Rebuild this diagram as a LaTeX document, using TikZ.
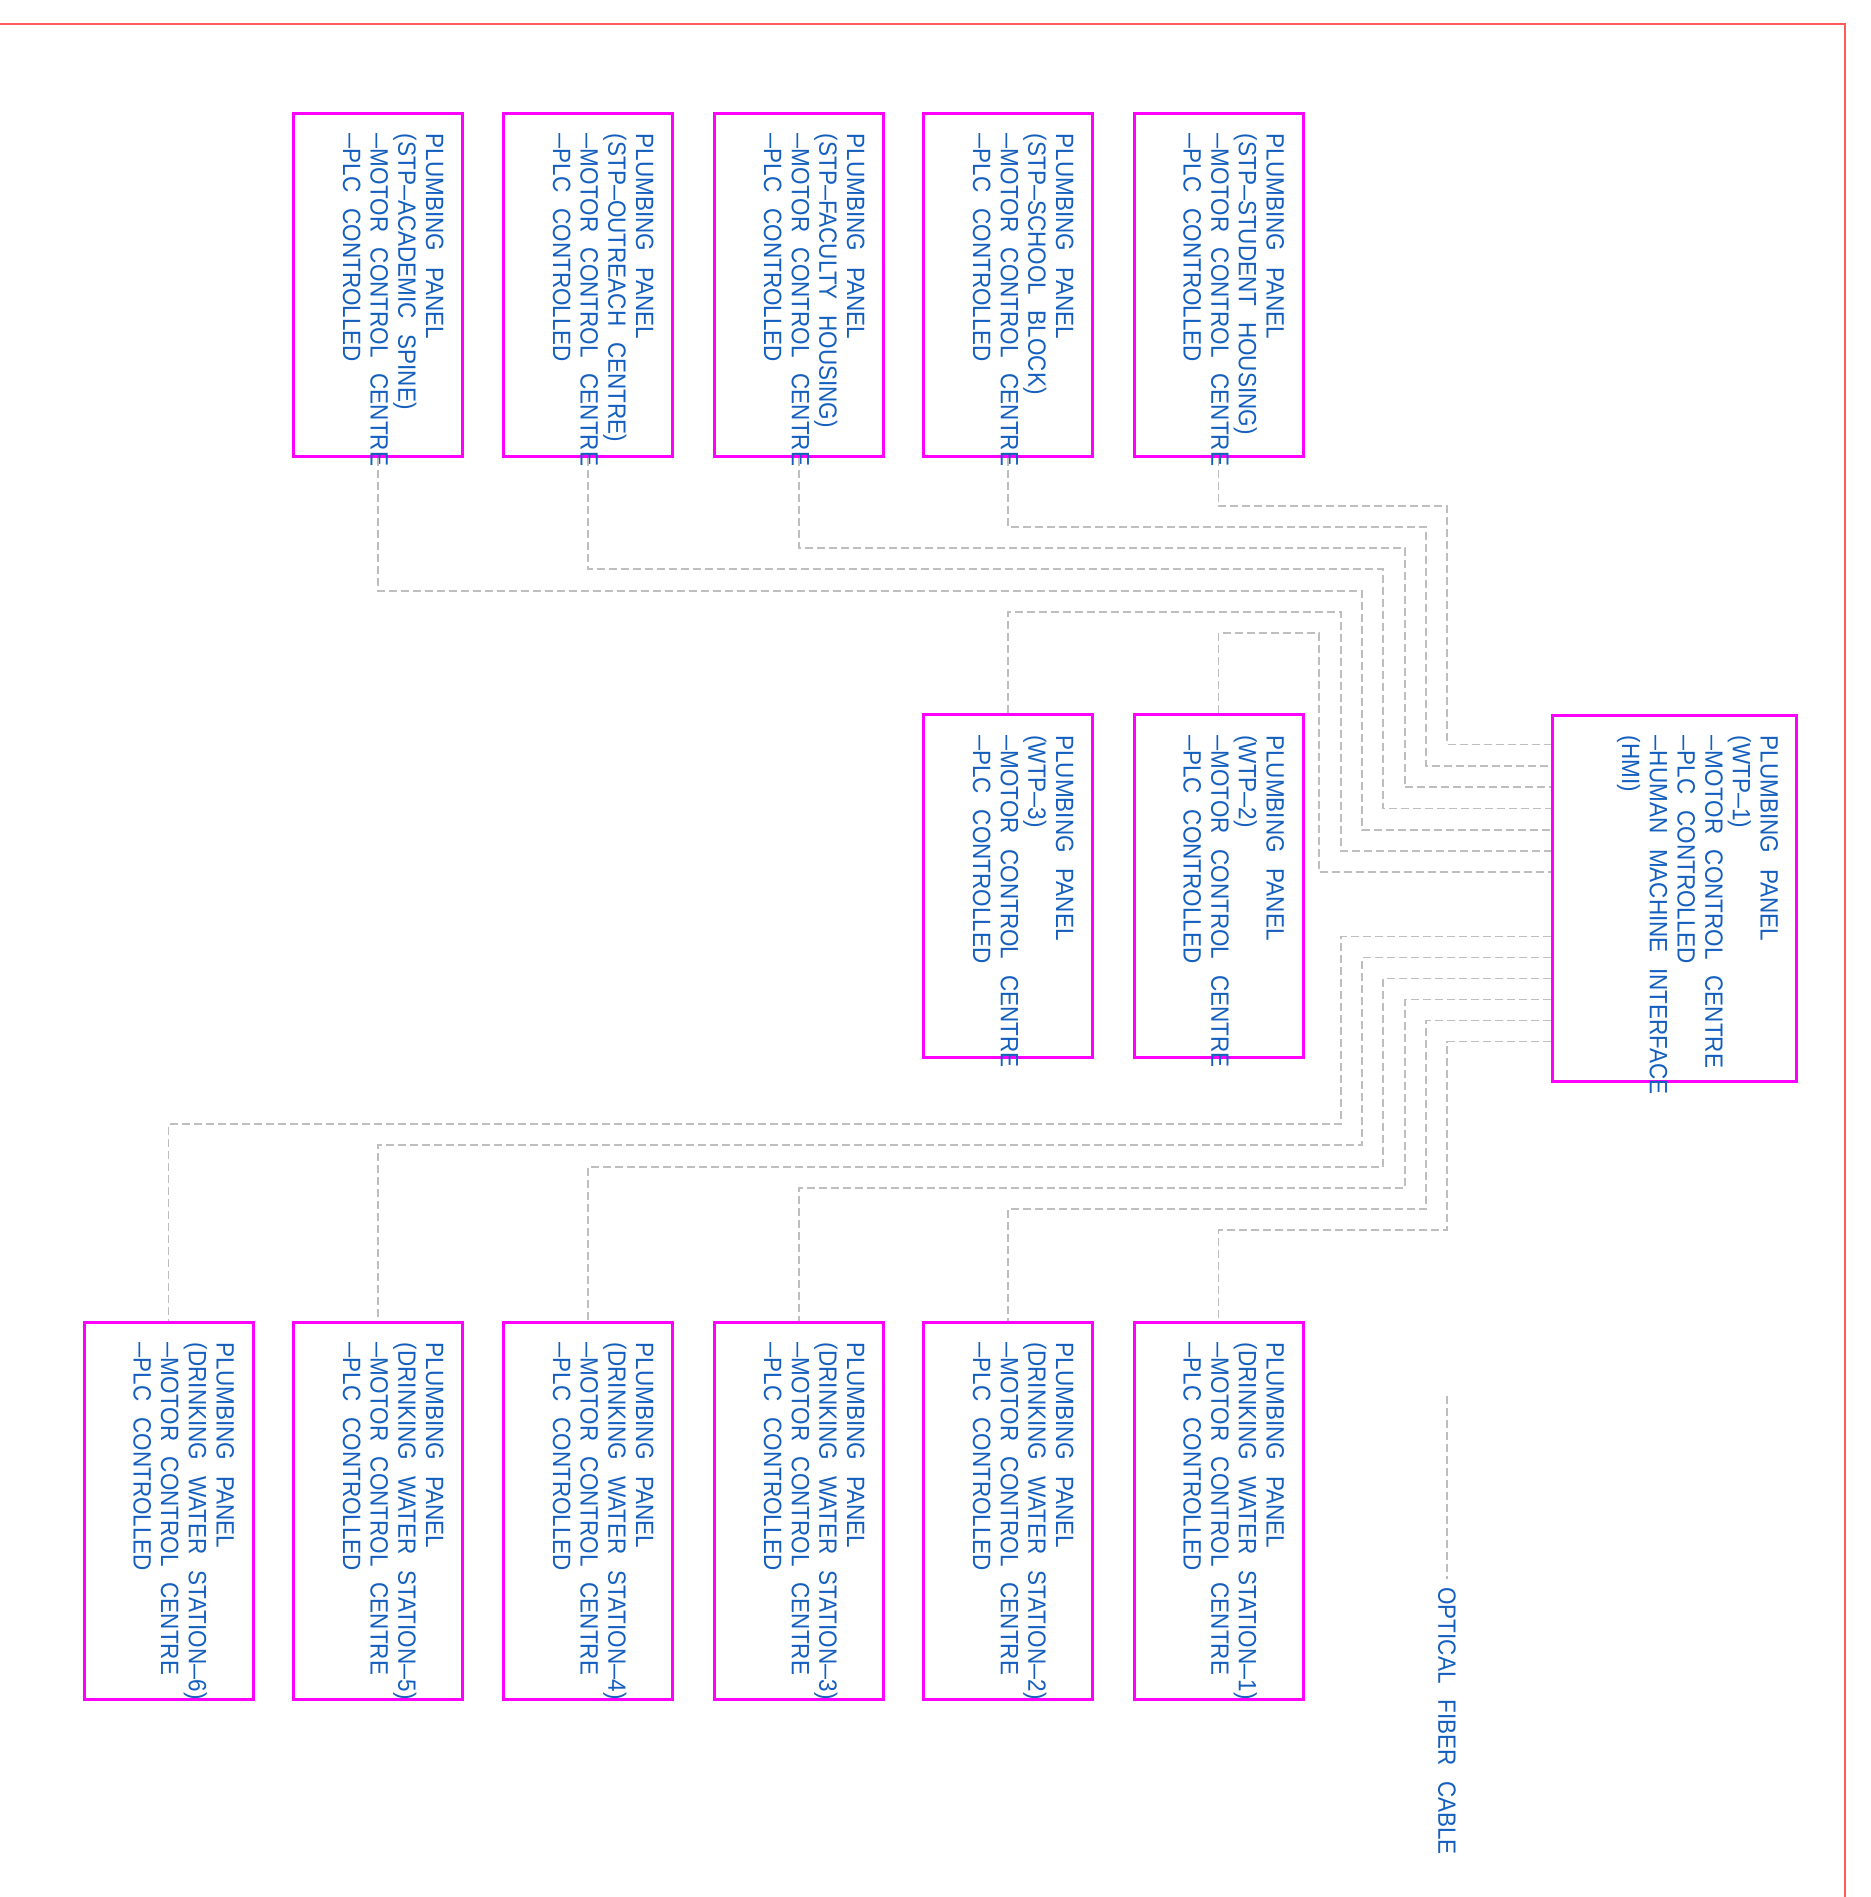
\documentclass[tikz,border=0pt]{standalone}
\usepackage{fontspec}
\usepackage{graphicx}
\usetikzlibrary{calc}
\newfontfamily\cadfont{Liberation Sans}[FakeStretch=0.90, WordSpace=2.5]
\newcommand\dsh{\scalebox{1.2}[1]{–}}
\definecolor{panelmag}{RGB}{255,0,255}
\definecolor{txtblue}{RGB}{20,95,190}
\definecolor{fibergray}{RGB}{190,190,190}
\definecolor{framered}{RGB}{255,90,90}
\tikzset{
  panel/.style={draw=panelmag, line width=1.5pt, inner sep=0pt, minimum width=84.5pt},
  shortp/.style={panel, minimum height=171.5pt},
  tallp/.style={panel, minimum height=188.5pt},
  ptext/.style={rotate=-90, anchor=north west, align=left, inner sep=0pt, text=txtblue,
                font={\cadfont\fontsize{12.5pt}{13.85pt}\selectfont}},
  fiber/.style={draw=fibergray, line width=0.75pt, dash pattern=on 4pt off 2pt},
}
\begin{document}
\begin{tikzpicture}[x=0.5pt, y=-0.5pt]
\useasboundingbox (0,0) rectangle (1871,1897);
% frame
\draw[framered, line width=0.8pt] (0,24) -- (1845,24) -- (1845,1897);

% top row (STP panels)
\node[shortp] (s1) at (378,284.5) {};
\node[shortp] (s2) at (588,284.5) {};
\node[shortp] (s3) at (799,284.5) {};
\node[shortp] (s4) at (1008,284.5) {};
\node[shortp] (s5) at (1218.5,284.5) {};
\node[ptext] (s1t) at ($(s1.north east)+(-20,22)$) {PLUMBING PANEL\\(STP\dsh ACADEMIC SPINE)\\\dsh MOTOR CONTROL CENTRE\\\dsh PLC CONTROLLED};
\node[ptext] (s2t) at ($(s2.north east)+(-20,22)$) {PLUMBING PANEL\\(STP\dsh OUTREACH CENTRE)\\\dsh MOTOR CONTROL CENTRE\\\dsh PLC CONTROLLED};
\node[ptext] (s3t) at ($(s3.north east)+(-20,22)$) {PLUMBING PANEL\\(STP\dsh FACULTY HOUSING)\\\dsh MOTOR CONTROL CENTRE\\\dsh PLC CONTROLLED};
\node[ptext] (s4t) at ($(s4.north east)+(-20,22)$) {PLUMBING PANEL\\(STP\dsh SCHOOL BLOCK)\\\dsh MOTOR CONTROL CENTRE\\\dsh PLC CONTROLLED};
\node[ptext] (s5t) at ($(s5.north east)+(-20,22)$) {PLUMBING PANEL\\(STP\dsh STUDENT HOUSING)\\\dsh MOTOR CONTROL CENTRE\\\dsh PLC CONTROLLED};

% middle row (WTP panels)
\node[shortp] (m3) at (1008,886) {};
\node[shortp] (m2) at (1218.5,886) {};
\node[panel, minimum width=122pt, minimum height=183pt] (w1) at (1674,898) {};
\node[ptext] (m3t) at ($(m3.north east)+(-20,22)$) {PLUMBING PANEL\\(WTP\dsh 3)\\\dsh MOTOR CONTROL CENTRE\\\dsh PLC CONTROLLED};
\node[ptext] (m2t) at ($(m2.north east)+(-20,22)$) {PLUMBING PANEL\\(WTP\dsh 2)\\\dsh MOTOR CONTROL CENTRE\\\dsh PLC CONTROLLED};
\node[ptext] (w1t) at ($(w1.north east)+(-19,22)$) {PLUMBING PANEL\\(WTP\dsh 1)\\\dsh MOTOR CONTROL CENTRE\\\dsh PLC CONTROLLED\\\dsh HUMAN MACHINE INTERFACE\\(HMI)};

% bottom row (drinking water stations)
\node[tallp] (d6) at (168.5,1510.5) {};
\node[tallp] (d5) at (378,1510.5) {};
\node[tallp] (d4) at (588,1510.5) {};
\node[tallp] (d3) at (799,1510.5) {};
\node[tallp] (d2) at (1008,1510.5) {};
\node[tallp] (d1) at (1218.5,1510.5) {};
\node[ptext] (d6t) at ($(d6.north east)+(-20,22)$) {PLUMBING PANEL\\(DRINKING WATER STATION\dsh 6)\\\dsh MOTOR CONTROL CENTRE\\\dsh PLC CONTROLLED};
\node[ptext] (d5t) at ($(d5.north east)+(-20,22)$) {PLUMBING PANEL\\(DRINKING WATER STATION\dsh 5)\\\dsh MOTOR CONTROL CENTRE\\\dsh PLC CONTROLLED};
\node[ptext] (d4t) at ($(d4.north east)+(-20,22)$) {PLUMBING PANEL\\(DRINKING WATER STATION\dsh 4)\\\dsh MOTOR CONTROL CENTRE\\\dsh PLC CONTROLLED};
\node[ptext] (d3t) at ($(d3.north east)+(-20,22)$) {PLUMBING PANEL\\(DRINKING WATER STATION\dsh 3)\\\dsh MOTOR CONTROL CENTRE\\\dsh PLC CONTROLLED};
\node[ptext] (d2t) at ($(d2.north east)+(-20,22)$) {PLUMBING PANEL\\(DRINKING WATER STATION\dsh 2)\\\dsh MOTOR CONTROL CENTRE\\\dsh PLC CONTROLLED};
\node[ptext] (d1t) at ($(d1.north east)+(-20,22)$) {PLUMBING PANEL\\(DRINKING WATER STATION\dsh 1)\\\dsh MOTOR CONTROL CENTRE\\\dsh PLC CONTROLLED};

% fiber connectors: top group
\draw[fiber] (s5.south) |- (1447,506) |- ($(w1.north west)+(0,31)$);
\draw[fiber] (s4.south) |- (1426,527) |- ($(w1.north west)+(0,52.3)$);
\draw[fiber] (s3.south) |- (1405,548) |- ($(w1.north west)+(0,73.6)$);
\draw[fiber] (s2.south) |- (1383,569) |- ($(w1.north west)+(0,95)$);
\draw[fiber] (s1.south) |- (1362,591) |- ($(w1.north west)+(0,116.3)$);
\draw[fiber] (m3.north) |- (1341,612) |- ($(w1.north west)+(0,137.6)$);
\draw[fiber] (m2.north) |- (1319,633) |- ($(w1.north west)+(0,158.5)$);

% fiber connectors: bottom group
\draw[fiber] ($(w1.north west)+(0,223)$) -| (1341,1124) -| (d6.north);
\draw[fiber] ($(w1.north west)+(0,244)$) -| (1362,1145) -| (d5.north);
\draw[fiber] ($(w1.north west)+(0,265)$) -| (1383,1167) -| (d4.north);
\draw[fiber] ($(w1.north west)+(0,286)$) -| (1405,1188) -| (d3.north);
\draw[fiber] ($(w1.north west)+(0,307)$) -| (1426,1209) -| (d2.north);
\draw[fiber] ($(w1.north west)+(0,328)$) -| (1447,1230) -| (d1.north);

% legend
\coordinate (lgtop) at (1447,1396);
\node[rotate=-90, anchor=west, inner sep=4pt, text=txtblue,
      font={\cadfont\fontsize{12.5pt}{13.85pt}\selectfont}] (lgt) at (1447,1579) {OPTICAL FIBER CABLE};
\draw[fiber] (lgtop) -- (lgt.west);
\end{tikzpicture}
\end{document}
